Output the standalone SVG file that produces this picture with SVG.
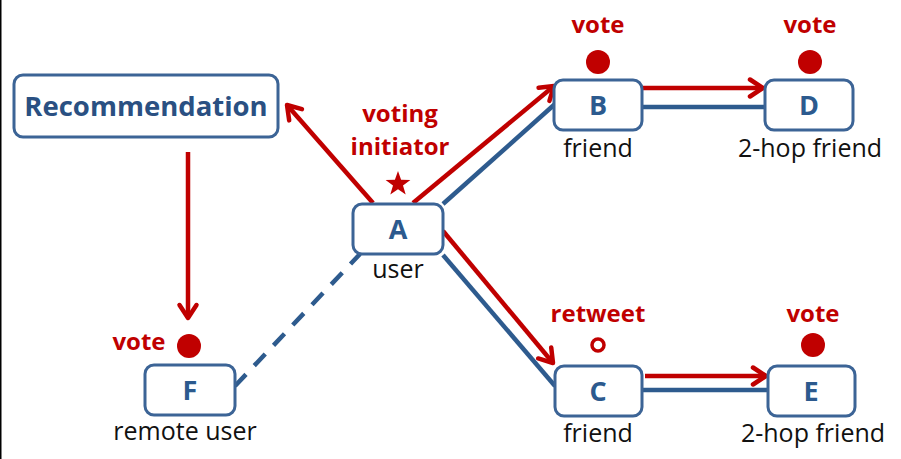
<svg xmlns="http://www.w3.org/2000/svg" width="901" height="459" viewBox="0 0 901 459">
<defs>
<marker id="arr" markerWidth="20" markerHeight="20" refX="0" refY="0" markerUnits="userSpaceOnUse" orient="auto" overflow="visible">
<path d="M-13,-8.5 L0,0 L-13,8.5" fill="none" stroke="#C00000" stroke-width="4.5" stroke-linecap="round" stroke-linejoin="round"/>
</marker>
<style>
.node{fill:#fff;stroke:#3C6496;stroke-width:3}
.nl{font-family:"Open Sans","Noto Sans",sans-serif;font-weight:bold;font-size:27px;fill:#2C5A8E;text-anchor:middle}
.rec{font-size:27.5px;fill:#2A5082}
.lab{font-family:"Open Sans","Noto Sans",sans-serif;font-size:25px;fill:#111;text-anchor:middle}
.red{font-family:"Open Sans","Noto Sans",sans-serif;font-weight:bold;font-size:24px;fill:#C00000;text-anchor:middle}
.ra{stroke:#C00000;stroke-width:4.5;fill:none;marker-end:url(#arr)}
.bl{stroke:#2E5B8E;stroke-width:4.5;fill:none}
</style>
</defs>
<rect x="0" y="0" width="901" height="459" fill="#fff"/>
<line x1="0.75" y1="0" x2="0.75" y2="459" stroke="#000" stroke-width="1.5"/>
<g id="connectors">
<line class="ra" x1="373" y1="203" x2="287" y2="105"/>
<line class="ra" x1="188" y1="152" x2="188" y2="318"/>
<line class="ra" x1="413" y1="203" x2="554" y2="86"/>
<line class="bl" x1="443" y1="204" x2="555" y2="104"/>
<line class="ra" x1="443" y1="231" x2="553" y2="363"/>
<line class="bl" x1="443" y1="255" x2="555" y2="386"/>
<line class="ra" x1="642" y1="88" x2="763" y2="88"/>
<line class="bl" x1="642" y1="107" x2="765" y2="107"/>
<line class="ra" x1="645" y1="376" x2="766" y2="376"/>
<line class="bl" x1="642" y1="390" x2="768" y2="390"/>
<line class="bl" x1="235" y1="386" x2="360" y2="254" stroke-dasharray="16,12"/>
</g>
<g id="recommendation">
<rect class="node" x="14" y="75" width="264" height="62" rx="9"/>
<text class="nl rec" x="146" y="116">Recommendation</text>
</g>
<g id="nodeA">
<rect class="node" x="353" y="204" width="90" height="50" rx="9"/>
<text class="nl" x="398" y="239">A</text>
<text class="lab" x="398" y="278">user</text>
<text class="red" x="400" y="122">voting</text>
<text class="red" x="400" y="155">initiator</text>
<polygon fill="#C00000" points="398,171 401.1,179.7 410.4,179.9 403,185.6 405.7,194.5 398,189.2 390.3,194.5 393,185.6 385.6,179.9 394.9,179.7"/>
</g>
<g id="nodeB">
<rect class="node" x="554" y="80" width="88" height="50" rx="9"/>
<text class="nl" x="598" y="115">B</text>
<text class="lab" x="598" y="157">friend</text>
<text class="red" x="598" y="33">vote</text>
<circle cx="598" cy="62" r="12" fill="#C00000"/>
</g>
<g id="nodeD">
<rect class="node" x="765" y="80" width="88" height="50" rx="9"/>
<text class="nl" x="809" y="115">D</text>
<text class="lab" x="810" y="157">2-hop friend</text>
<text class="red" x="810" y="33">vote</text>
<circle cx="810" cy="62" r="12" fill="#C00000"/>
</g>
<g id="nodeC">
<rect class="node" x="555" y="366" width="87" height="50" rx="9"/>
<text class="nl" x="598" y="401">C</text>
<text class="lab" x="598" y="442">friend</text>
<text class="red" x="598" y="322">retweet</text>
<circle cx="598" cy="345" r="6" fill="none" stroke="#C00000" stroke-width="3.5"/>
</g>
<g id="nodeE">
<rect class="node" x="768" y="366" width="87" height="50" rx="9"/>
<text class="nl" x="811" y="401">E</text>
<text class="lab" x="813" y="442">2-hop friend</text>
<text class="red" x="813" y="322">vote</text>
<circle cx="813" cy="345" r="12" fill="#C00000"/>
</g>
<g id="nodeF">
<rect class="node" x="145" y="365" width="90" height="50" rx="9"/>
<text class="nl" x="190" y="400">F</text>
<text class="lab" x="185" y="440">remote user</text>
<text class="red" x="139" y="350">vote</text>
<circle cx="189" cy="346" r="12" fill="#C00000"/>
</g>
</svg>
